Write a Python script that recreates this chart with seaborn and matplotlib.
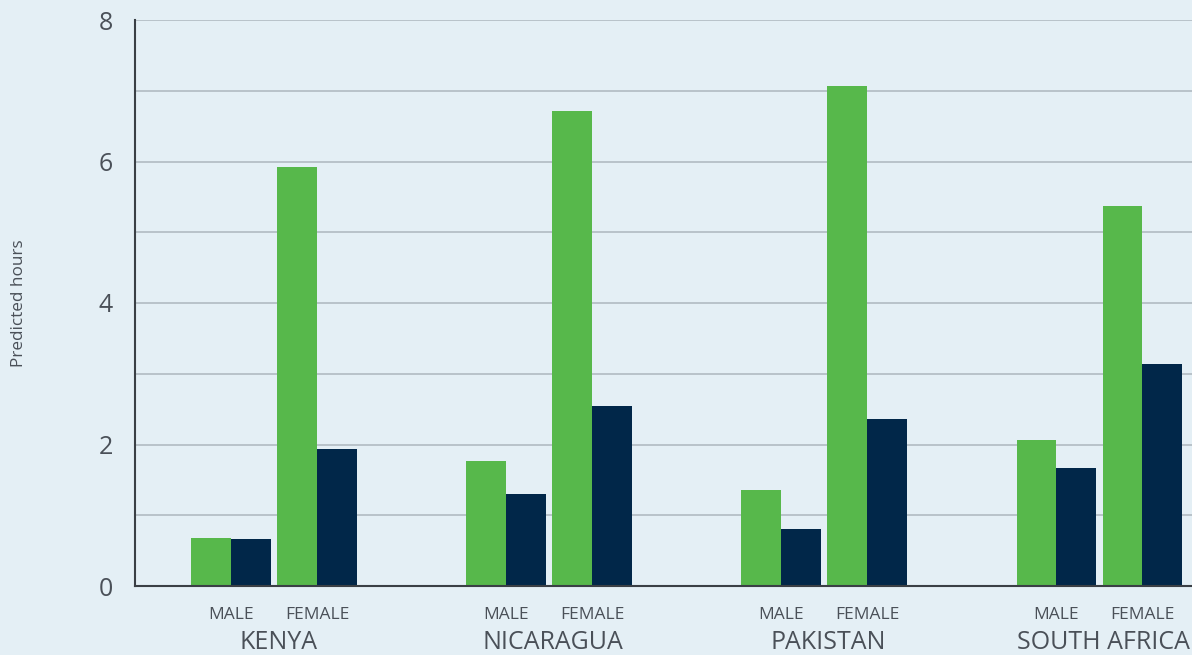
import matplotlib
matplotlib.use("Agg")
import matplotlib.pyplot as plt
import matplotlib.transforms as mtransforms
import seaborn as sns
import pandas as pd

# ---- data ----
countries = ["KENYA", "NICARAGUA", "PAKISTAN", "SOUTH AFRICA"]
sexes = ["MALE", "FEMALE"]
series_names = ["Series A", "Series B"]
# values ordered: country -> (male, female)
series_a = [[0.68, 5.92], [1.77, 6.71], [1.36, 7.07], [2.06, 5.37]]
series_b = [[0.66, 1.94], [1.30, 2.54], [0.81, 2.36], [1.67, 3.14]]
y_ticks = [0, 2, 4, 6, 8]

# ---- layout ----
group_step = 3.198
colors = ["#57b84b", "#012749"]
bg = "#e4eff5"
text_col = "#4a5058"

rows = []
for gi, c in enumerate(countries):
    for si, s in enumerate(sexes):
        pos = gi * group_step + si
        rows.append({"pos": pos, "series": series_names[0], "value": series_a[gi][si]})
        rows.append({"pos": pos, "series": series_names[1], "value": series_b[gi][si]})
df = pd.DataFrame(rows)

sns.set_theme(style="white")
plt.rcParams["font.family"] = ["Open Sans", "DejaVu Sans"]

fig = plt.figure(figsize=(11.92, 6.55), dpi=100, facecolor=bg)
ax = fig.add_axes([135 / 1192, 69 / 655, 1 - 135 / 1192, 566 / 655])
ax.set_facecolor(bg)

sns.barplot(data=df, x="pos", y="value", hue="series", palette=colors,
            native_scale=True, width=0.92, gap=0, dodge=True, saturation=1,
            linewidth=0, legend=False, ax=ax, zorder=3)

ax.set_xlim((135 - 231) / 86, (1192 - 231) / 86)
ax.set_ylim(0, 8)
ax.set_yticks(y_ticks)
ax.set_yticklabels([str(t) for t in y_ticks], fontsize=18, color=text_col)
ax.set_yticks(range(0, 9), minor=True)
ax.grid(axis="y", which="both", color="#b5bfc6", linewidth=1.3, zorder=0)
ax.set_axisbelow(True)
ax.tick_params(axis="y", which="both", length=0, pad=16)

xt = [gi * group_step + si for gi in range(len(countries)) for si in range(len(sexes))]
ax.set_xticks(xt)
ax.set_xticklabels(sexes * len(countries), fontsize=12.5, color=text_col)
ax.tick_params(axis="x", length=0, pad=15)

trans = mtransforms.blended_transform_factory(ax.transData, ax.transAxes)
for gi, c in enumerate(countries):
    ax.text(gi * group_step + 0.55, -0.100, c, transform=trans, ha="center", va="center",
            fontsize=18, color=text_col)

for side in ["top", "right"]:
    ax.spines[side].set_visible(False)
for side in ["left", "bottom"]:
    ax.spines[side].set_color("#3a3f45")
    ax.spines[side].set_linewidth(1.5)
    ax.spines[side].set_zorder(4)

ax.set_xlabel("")
ax.set_ylabel("")
fig.text(19 / 1192, 1 - 303 / 655, "Predicted hours", rotation=90, ha="center", va="center",
         fontsize=12.3, color=text_col)

fig.savefig("out.png", dpi=100, facecolor=bg)
